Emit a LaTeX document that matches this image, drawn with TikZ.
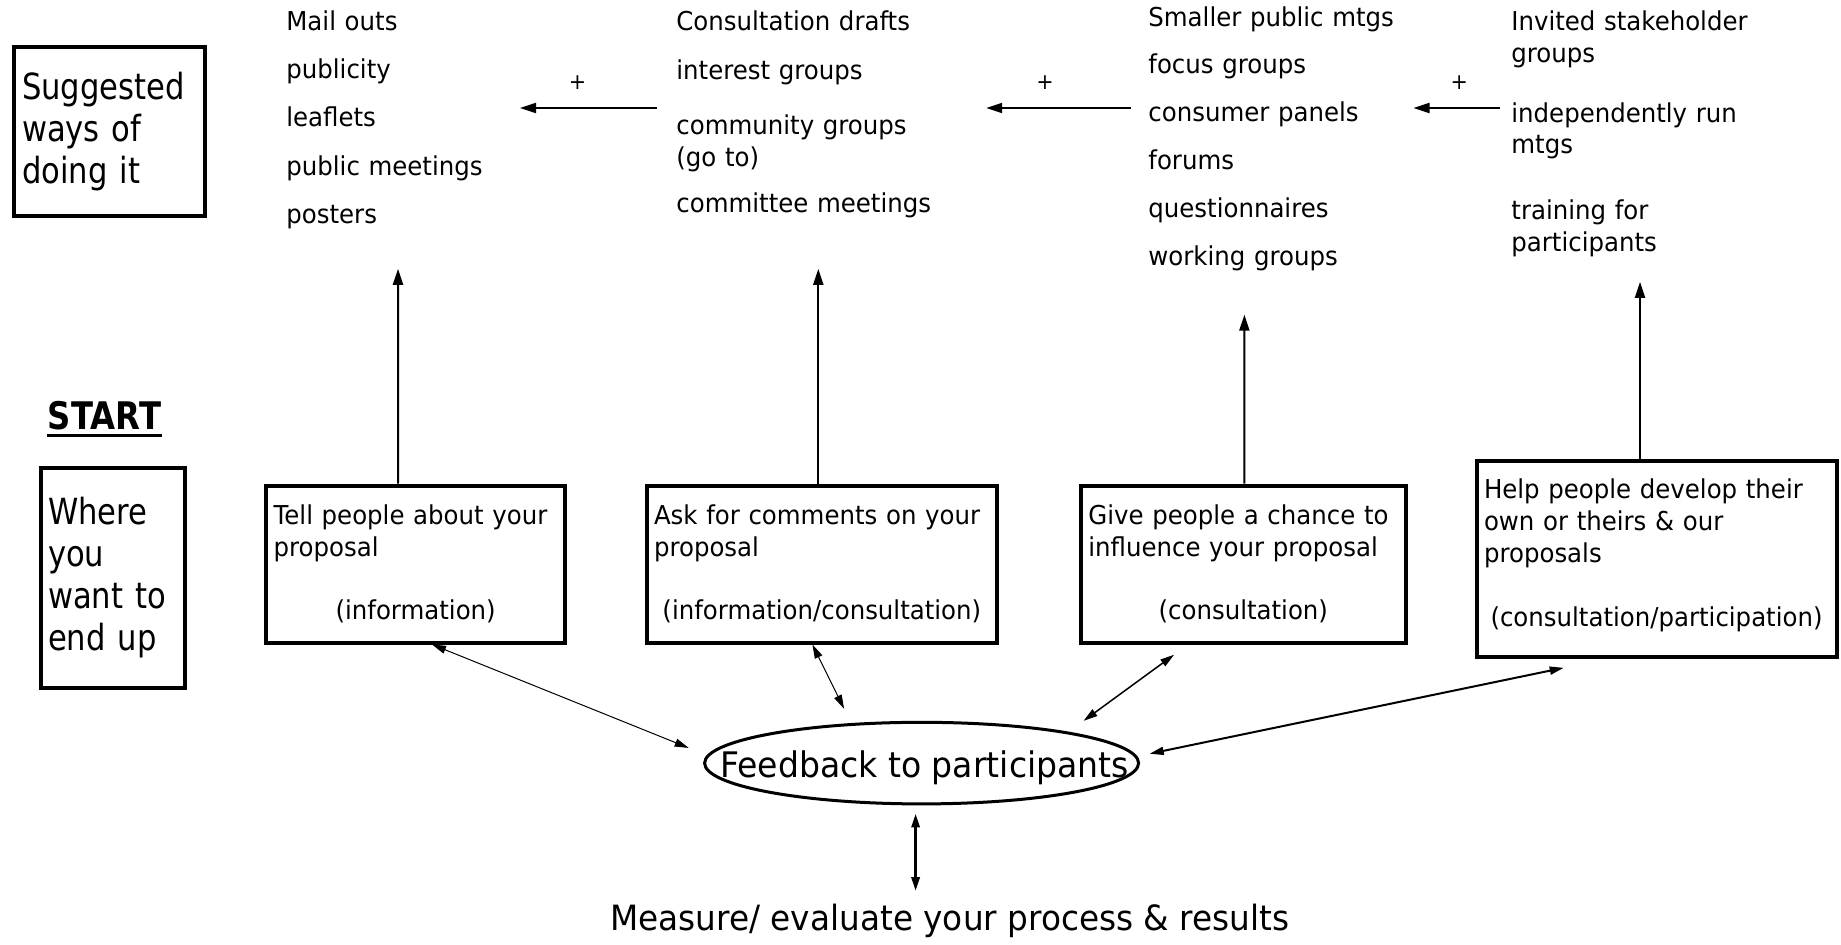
\documentclass[tikz,border=0pt]{standalone}
\usepackage{fontspec}
\setmainfont{DejaVu Sans}[FakeStretch=0.94]
\newfontfamily\sidefont{DejaVu Sans}[FakeStretch=0.85]
\usetikzlibrary{arrows.meta,shapes.geometric}

\tikzset{
  stage/.style={draw, line width=2pt, align=left, inner xsep=3.75pt, inner ysep=0pt,
    font=\fontsize{13}{15.9}\selectfont},
  sidebox/.style={draw, line width=2pt, align=left, inner xsep=4pt, inner ysep=0pt,
    font=\sidefont\fontsize{18}{21}\selectfont},
  ways/.style={anchor=base west, align=left, inner sep=0pt, text width=150pt,
    font=\fontsize{13}{15.9}\selectfont},
  plus/.style={font=\fontsize{11}{13}\selectfont, inner sep=0pt},
  uparrow/.style={-{Triangle[length=8pt,width=5pt]}, line width=1pt},
  link/.style={{Triangle[length=7pt,width=4pt]}-{Triangle[length=7pt,width=4pt]}, line width=0.5pt}
}

\begin{document}
\begin{tikzpicture}[x=0.5pt,y=-0.5pt]
  \fill[white] (0,0) rectangle (1841,944);
  \useasboundingbox (0,0) rectangle (1841,944);

  % left column
  \node[sidebox, minimum height=84.5pt, text width=87.5pt] (sugg) at (109.5,131.5)
    {Suggested\\ways of\\doing it};
  \node[font=\sidefont\fontsize{19}{22}\selectfont\bfseries, inner sep=0pt] (start) at (104.5,415.5) {START};
  \draw[line width=1.5pt] ([yshift=-3pt]start.base west) -- ([yshift=-3pt]start.base east);
  \node[sidebox, minimum height=110pt, text width=65pt, inner xsep=3.5pt] (where) at (113,578)
    {Where\\you\\want to\\end up};

  % ways of doing it
  \node[ways] (ways1) at (286,30.5)
    {Mail outs\\[8.2pt]publicity\\[8.2pt]leaflets\\[8.2pt]public meetings\\[8.2pt]posters};
  \node[ways] (ways2) at (676,30.5)
    {Consultation drafts\\[8.7pt]interest groups\\[11.7pt]community groups\\(go to)\\[7pt]committee meetings};
  \node[ways] (ways3) at (1148,26)
    {Smaller public mtgs\\[8pt]focus groups\\[8pt]consumer panels\\[8pt]forums\\[8pt]questionnaires\\[8pt]working groups};
  \node[ways] (ways4) at (1511,30.5)
    {Invited stakeholder\\groups\\[14pt]independently run\\mtgs\\[17pt]training for\\participants};

  \node[plus] (plus1) at (577.6,82.2) {+};
  \node[plus] (plus2) at (1044.9,82.2) {+};
  \node[plus] (plus3) at (1459.3,82.2) {+};
  \coordinate (h1a) at (657.4,108); \coordinate (h1b) at (520,108);
  \coordinate (h2a) at (1130.6,108); \coordinate (h2b) at (986.2,108);
  \coordinate (h3a) at (1500.4,108); \coordinate (h3b) at (1413.5,108);
  \draw[uparrow] (h1a) -- (h1b);
  \draw[uparrow] (h2a) -- (h2b);
  \draw[uparrow] (h3a) -- (h3b);

  % stages
  \node[stage, minimum height=78.4pt, text width=142pt] (tell) at (415.65,564.1)
    {Tell people about your\\proposal\\[15.8pt]\makebox[\linewidth]{(information)}};
  \node[stage, minimum height=78.4pt, text width=167.8pt] (ask) at (821.8,564.1)
    {Ask for comments on your\\proposal\\[15.8pt]\makebox[\linewidth]{(information/consultation)}};
  \node[stage, minimum height=78.4pt, text width=154.9pt] (give) at (1243.3,564.1)
    {Give people a chance to\\influence your proposal\\[15.8pt]\makebox[\linewidth]{(consultation)}};
  \node[stage, minimum height=97.8pt, text width=172.5pt] (help) at (1656.5,558.8)
    {Help people develop their\\own or theirs \& our\\proposals\\[16.4pt]\makebox[\linewidth]{(consultation/participation)}\rule[-6pt]{0pt}{0pt}};

  \coordinate (t1) at (398,268.8);
  \coordinate (t2) at (818.3,268.8);
  \coordinate (t3) at (1244.4,314.6);
  \coordinate (t4) at (1640,281.8);
  \draw[uparrow] ([xshift=-8.8pt]tell.north) -- (t1);
  \draw[uparrow] ([xshift=-1.75pt]ask.north) -- (t2);
  \draw[uparrow] ([xshift=0.5pt]give.north) -- (t3);
  \draw[uparrow] ([xshift=-8.25pt]help.north) -- (t4);

  % feedback
  \node[ellipse, draw, line width=1.5pt, minimum width=217pt, minimum height=40.8pt, inner sep=0pt]
    (fb) at (921.6,763.1) {};
  \node[font=\fontsize{17.6}{21}\selectfont, inner sep=0pt] (fbtext) at (924.5,767.8) {Feedback to participants};
  \node[font=\fontsize{17.4}{21}\selectfont, inner sep=0pt] (measure) at (949.8,920.4)
    {Measure/ evaluate your process \& results};

  \draw[link] ([xshift=8.2pt]tell.south) -- ([shift={(-7.2pt,7.6pt)}]fb.west);
  \draw[link] ([xshift=-4.7pt]ask.south) -- ([shift={(-38.75pt,6pt)}]fb.north);
  \draw[link, line width=0.75pt] ([shift={(-34.6pt,-5.1pt)}]give.south) -- ([shift={(81pt,0pt)}]fb.north);
  \draw[link, line width=1pt] ([shift={(-46.4pt,-4.6pt)}]help.south) -- ([shift={(4.8pt,4.7pt)}]fb.east);
  \draw[link, line width=1.5pt] ([shift={(-3pt,-4pt)}]fb.south) -- ([shift={(-3pt,6pt)}]fb.south |- measure.north);
\end{tikzpicture}
\end{document}
